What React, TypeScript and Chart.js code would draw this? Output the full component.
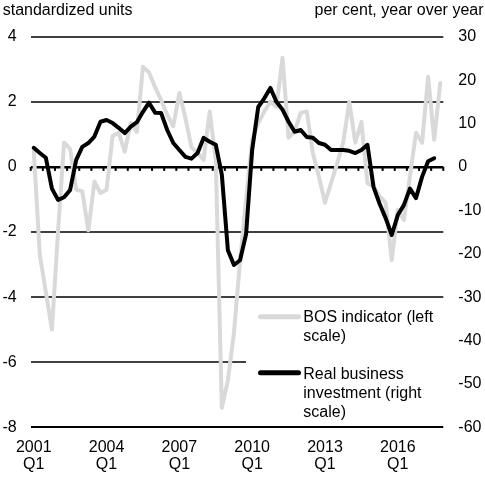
import { useEffect, useRef } from "react"
import { Chart, registerables } from "chart.js"

Chart.register(...registerables)

// quarterly categories, 2001Q1 .. 2017Q4
const years = [2001, 2002, 2003, 2004, 2005, 2006, 2007, 2008, 2009, 2010, 2011, 2012, 2013, 2014, 2015, 2016, 2017]
const quarters: string[] = []
years.forEach((y) => ["Q1", "Q2", "Q3", "Q4"].forEach((q) => quarters.push(`${y}${q}`)))

// BOS indicator, standardized units (left scale)
const bosIndicator = [
  0.5, -2.7, -3.85, -5.0, -2.0, 0.75, 0.55, -0.7, -0.75, -1.95,
  -0.45, -0.8, -0.7, 0.95, 1.05, 0.47, 1.35, 1.08, 3.08, 2.9,
  2.45, 2.05, 1.6, 1.25, 2.27, 1.5, 0.6, 0.43, 0.22, 1.7,
  0.2, -7.4, -6.55, -5.1, -2.9, -1.0, 0.83, 1.35, 1.7, 2.0,
  1.85, 3.35, 0.9, 1.1, 1.66, 1.7, 0.43, -0.3, -1.1, -0.5,
  0.1, 0.74, 2.0, 0.74, 1.38, -0.5, -0.6, -0.9, -1.1, -2.86,
  -1.32, -1.63, -0.3, 1.05, 0.74, 2.77, 0.83, 2.58,
]

// Real business investment, per cent y/y (right scale), ends 2017Q3
const realBusinessInvestment = [
  4.4, 3.2, 2.1, -5.0, -7.6, -7.0, -5.3, 1.6, 4.6, 5.5,
  7.0, 10.4, 10.8, 10.1, 9.0, 7.8, 9.3, 10.3, 12.7, 14.8,
  12.5, 12.4, 8.5, 5.5, 3.9, 2.3, 1.9, 3.2, 6.7, 5.8,
  5.1, -1.8, -19.2, -22.6, -21.5, -15.5, 3.9, 13.8, 15.8, 18.2,
  15.0, 13.2, 10.4, 8.1, 8.5, 6.9, 6.7, 5.5, 5.1, 3.9,
  3.9, 3.9, 3.7, 3.2, 3.9, 5.1, -4.6, -8.5, -11.8, -15.7,
  -11.1, -8.8, -5.0, -7.2, -2.3, 1.3, 2.0,
]

const xTickQuarters = ["2001Q1", "2004Q1", "2007Q1", "2010Q1", "2013Q1", "2016Q1"]
const xTickLabels = [["2001", "Q1"], ["2004", "Q1"], ["2007", "Q1"], ["2010", "Q1"], ["2013", "Q1"], ["2016", "Q1"]]

const leftTitle = "standardized units"
const rightTitle = "per cent, year over year"
const legendBos = ["BOS indicator (left", "scale)"]
const legendRbi = ["Real business", "investment (right", "scale)"]

const FONT = "'Liberation Sans', Arial, sans-serif"
const GRAY = "#d9d9d9"

const decorations = {
  id: "decorations",
  beforeDatasetsDraw(chart: any) {
    const { ctx, scales } = chart
    const y0 = scales.y.getPixelForValue(0)
    ctx.save()
    ctx.fillStyle = "#000"
    // x-axis tick marks on the zero line, every two quarters
    for (let b = -0.5; b <= quarters.length - 0.5; b += 2) {
      const x = scales.x.getPixelForValue(b)
      ctx.fillRect(x - 1, y0, 2, 4)
    }
    ctx.restore()
  },
  afterDatasetsDraw(chart: any) {
    const { ctx, chartArea, scales } = chart
    ctx.save()
    // legend box
    ctx.fillStyle = "#fff"
    ctx.fillRect(246, 300, chartArea.right - 246 + 1, 124)

    ctx.lineCap = "round"
    ctx.lineWidth = 5
    ctx.strokeStyle = GRAY
    ctx.beginPath()
    ctx.moveTo(260.5, 316.7)
    ctx.lineTo(298.5, 316.7)
    ctx.stroke()
    ctx.strokeStyle = "#000"
    ctx.beginPath()
    ctx.moveTo(260.5, 372.7)
    ctx.lineTo(298.5, 372.7)
    ctx.stroke()

    ctx.fillStyle = "#000"
    ctx.font = `16px ${FONT}`
    ctx.textAlign = "left"
    ctx.textBaseline = "alphabetic"
    legendBos.forEach((t, i) => ctx.fillText(t, 303.3, 322.3 + i * 18.7))
    legendRbi.forEach((t, i) => ctx.fillText(t, 303.3, 379.3 + i * 18.7))

    // axis titles
    ctx.fillText(leftTitle, 2.7, 15)
    ctx.textAlign = "right"
    ctx.fillText(rightTitle, 483.5, 15)

    // category axis labels (two lines each)
    ctx.textAlign = "center"
    xTickQuarters.forEach((q, k) => {
      const x = scales.x.getPixelForValue(quarters.indexOf(q))
      xTickLabels[k].forEach((line, j) => ctx.fillText(line, x, chartArea.bottom + 25 + j * 16.2))
    })
    ctx.restore()
  },
}

function BosChart() {
  const chartRef = useRef<HTMLCanvasElement>(null)
  const chartInstance = useRef<Chart | null>(null)

  useEffect(() => {
    if (!chartRef.current) return
    const ctx = chartRef.current.getContext("2d")
    if (!ctx) return
    if (chartInstance.current) chartInstance.current.destroy()

    const tickFont = { family: FONT, size: 16 }

    chartInstance.current = new Chart(ctx, {
      type: "line",
      data: {
        datasets: [
          {
            label: "Real business investment (right scale)",
            data: realBusinessInvestment.map((v, i) => ({ x: i, y: v })),
            yAxisID: "y2",
            borderColor: "#000",
            borderWidth: 4,
            pointRadius: 0,
            tension: 0,
            borderCapStyle: "round",
            borderJoinStyle: "round",
            order: 0,
          },
          {
            label: "BOS indicator (left scale)",
            data: bosIndicator.map((v, i) => ({ x: i, y: v })),
            yAxisID: "y",
            borderColor: GRAY,
            borderWidth: 4,
            pointRadius: 0,
            tension: 0,
            borderCapStyle: "round",
            borderJoinStyle: "round",
            order: 1,
          },
        ],
      },
      options: {
        animation: false,
        responsive: true,
        maintainAspectRatio: false,
        layout: { padding: { top: 36.7, left: 0, right: 0, bottom: 0 } },
        plugins: {
          legend: { display: false },
          tooltip: { enabled: false },
        },
        scales: {
          x: {
            type: "linear",
            min: -0.5,
            max: quarters.length - 0.5,
            afterFit: (scale: any) => {
              scale.height = 485 - 427.3
            },
            ticks: { display: false },
            grid: { display: false, drawTicks: false },
            border: { display: false },
          },
          y: {
            position: "left",
            min: -8,
            max: 4,
            afterFit: (scale: any) => {
              scale.width = 30.7
            },
            ticks: { stepSize: 2, padding: 14, color: "#000", font: tickFont },
            grid: {
              drawTicks: false,
              color: (c: any) => (c.tick.value === 0 || c.tick.value === -8 ? "#000" : "#404040"),
              lineWidth: (c: any) => (c.tick.value === 0 ? 2.5 : 2),
            },
            border: { display: false },
          },
          y2: {
            position: "right",
            min: -60,
            max: 30,
            afterFit: (scale: any) => {
              scale.width = 485 - 443.3
            },
            ticks: { stepSize: 10, padding: 15, color: "#000", font: tickFont },
            grid: { display: false, drawTicks: false },
            border: { display: false },
          },
        },
      },
      plugins: [decorations],
    })

    return () => {
      if (chartInstance.current) {
        chartInstance.current.destroy()
        chartInstance.current = null
      }
    }
  }, [])

  return (
    <div style={{ position: "absolute", left: 0, top: 0, width: 485, height: 485, background: "#fff" }}>
      <canvas ref={chartRef} />
    </div>
  )
}

export default function App() {
  return <BosChart />
}
